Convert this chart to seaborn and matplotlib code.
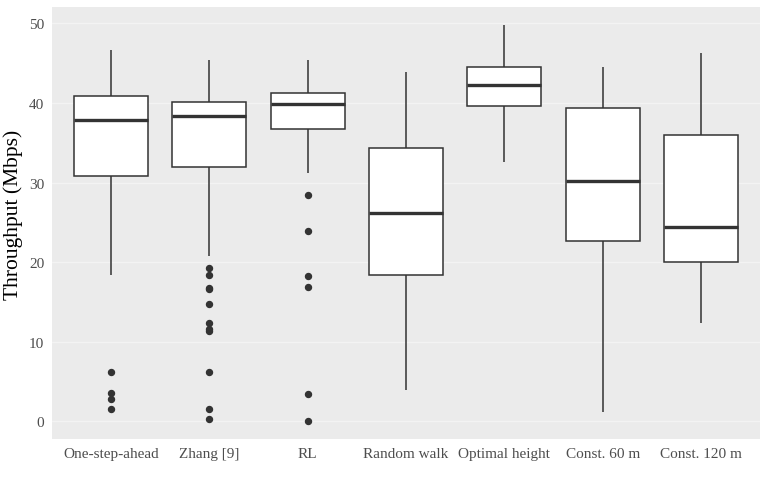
import numpy as np
import pandas as pd
import matplotlib
matplotlib.use("Agg")
import matplotlib.pyplot as plt
import seaborn as sns

# ---- values (Mbps) ----
methods = ["One-step-ahead", "Zhang [9]", "RL", "Random walk",
           "Optimal height", "Const. 60 m", "Const. 120 m"]
whisker_low = [18.45, 20.8, 31.2, 3.9, 32.6, 1.2, 12.4]
q1 = [30.8, 31.9, 36.7, 18.4, 39.6, 22.7, 20.05]
median = [37.9, 38.3, 39.8, 26.2, 42.2, 30.2, 24.45]
q3 = [40.9, 40.1, 41.2, 34.3, 44.45, 39.4, 36.0]
whisker_high = [46.7, 45.4, 45.4, 43.9, 49.8, 44.45, 46.25]
outliers = [
    [6.2, 3.57, 2.86, 1.6],
    [19.3, 18.45, 16.8, 16.6, 14.8, 12.4, 11.6, 11.3, 6.2, 1.6, 0.34],
    [28.4, 23.95, 18.3, 16.85, 3.45, 0.05],
    [],
    [],
    [],
    [],
]
ytick_vals = [0, 10, 20, 30, 40, 50]

# Build a sample per method whose box statistics reproduce the read values
rows = []
block = 20
for i, m in enumerate(methods):
    vals = (list(outliers[i]) + [whisker_low[i]] + [q1[i]] * block +
            [median[i]] * block + [q3[i]] * block + [whisker_high[i]])
    rows += [(m, v) for v in vals]
df = pd.DataFrame(rows, columns=["method", "throughput"])

sns.set_theme(style="darkgrid")
plt.rcParams["font.family"] = ["Liberation Serif", "DejaVu Serif"]

fig = plt.figure(figsize=(7.66, 4.89), dpi=100)
ax = fig.add_axes([52 / 766, 1 - 440 / 489, (760 - 52) / 766, (440 - 7.5) / 489])
ax.set_facecolor("#EBEBEB")

sns.boxplot(data=df, x="method", y="throughput", order=methods, ax=ax,
            color="white", linecolor="#333333", linewidth=1.1, width=0.75,
            whis=1.5, showcaps=False, fliersize=4.3,
            medianprops=dict(linewidth=2.4, color="#333333"),
            flierprops=dict(marker="o", markerfacecolor="#333333",
                            markeredgecolor="#333333"))

ax.set_xlim(-0.6, len(methods) - 0.4)
ax.set_ylim(-2.2, 52.1)
ax.set_yticks(ytick_vals)
ax.set_yticklabels([str(v) for v in ytick_vals])
ax.grid(False)
ax.yaxis.grid(True, which="major", color="#F3F3F3", linewidth=1.0)
ax.set_axisbelow(True)
for s in ax.spines.values():
    s.set_visible(False)

ax.tick_params(axis="both", which="major", length=3.5, width=0.8,
               color="#333333", labelsize=11, labelcolor="#4D4D4D", pad=2)
ax.set_xlabel("")
ax.set_ylabel("Throughput (Mbps)", fontsize=15.5, color="black")
ax.yaxis.set_label_coords(-0.041, 0.52)

fig.savefig("out.png", dpi=100)
